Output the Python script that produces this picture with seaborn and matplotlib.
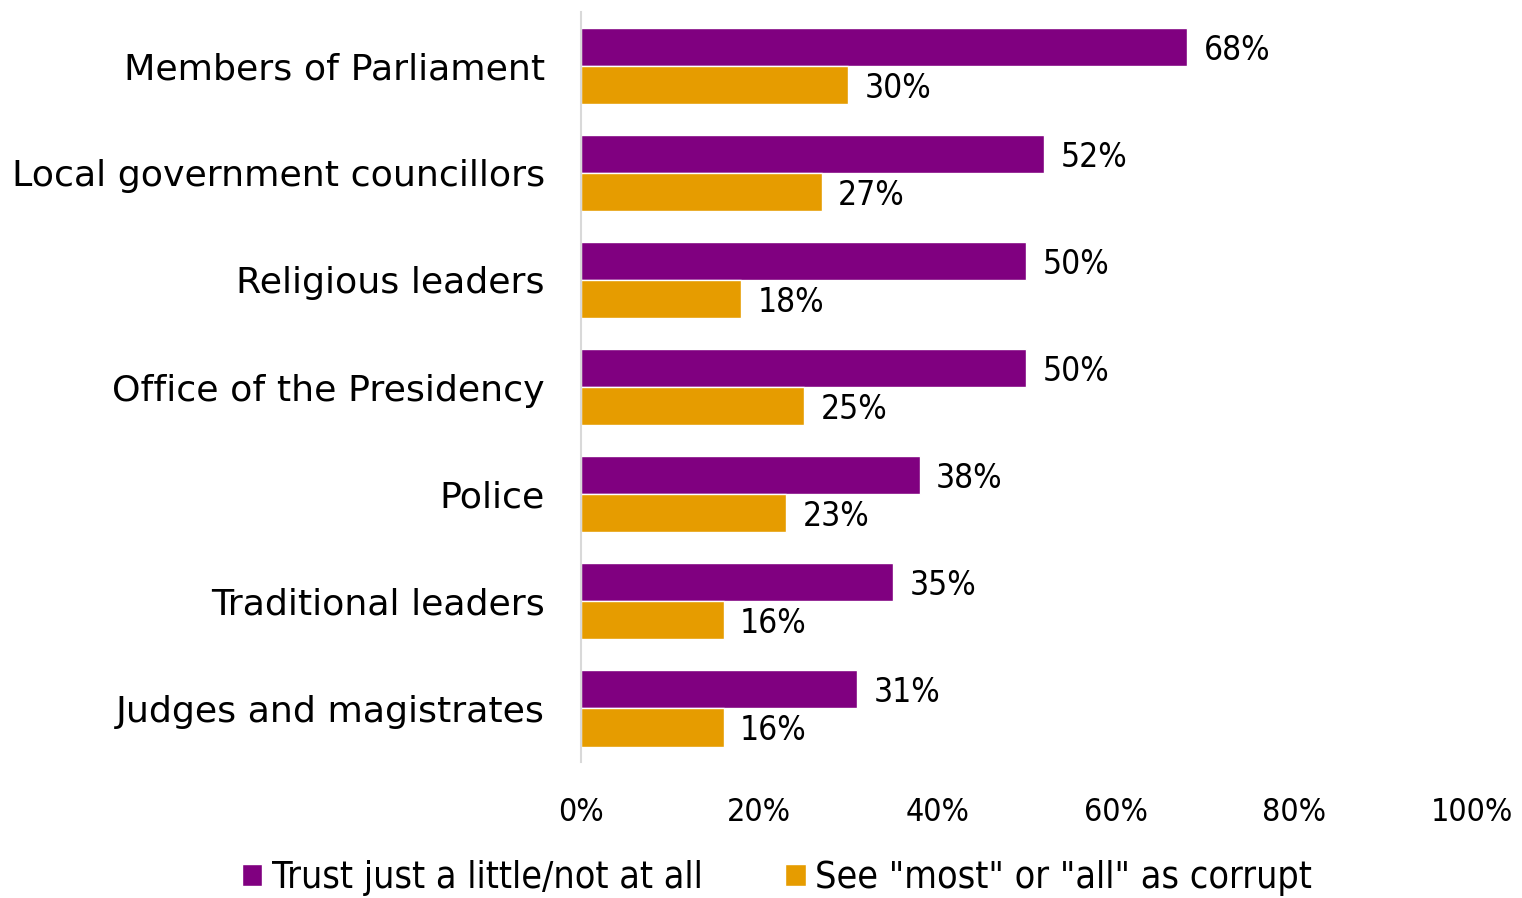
import matplotlib
matplotlib.use("Agg")
import matplotlib.pyplot as plt
import seaborn as sns
import pandas as pd

categories = [
    "Members of Parliament",
    "Local government councillors",
    "Religious leaders",
    "Office of the Presidency",
    "Police",
    "Traditional leaders",
    "Judges and magistrates",
]
series_names = ["Trust just a little/not at all", 'See "most" or "all" as corrupt']
distrust = [68, 52, 50, 50, 38, 35, 31]
corrupt = [30, 27, 18, 25, 23, 16, 16]
x_ticks = [0, 20, 40, 60, 80, 100]
colors = ["#800080", "#E69C00"]

df = pd.DataFrame({
    "category": categories * 2,
    "series": [series_names[0]] * len(categories) + [series_names[1]] * len(categories),
    "value": distrust + corrupt,
})

sns.set_theme(style="white")
plt.rcParams["font.family"] = ["DejaVu Sans"]
plt.rcParams["text.color"] = "black"

fig = plt.figure(figsize=(15.22, 8.98), dpi=100)
ax = fig.add_axes([0.3817, 0.1514, 0.5854, 0.8352])

sns.barplot(data=df, y="category", x="value", hue="series", orient="h",
            order=categories, hue_order=series_names, palette=colors,
            width=0.71, saturation=1, ax=ax, legend=True)

for cont in ax.containers:
    lbls = ax.bar_label(cont, labels=[f"{v:.0f}%" for v in cont.datavalues],
                        padding=12, fontsize=24, color="black")
    for t in lbls:
        t.set_fontstretch("condensed")
        x, y = t.xyann
        t.xyann = (x, y - 2.5)

ax.set_xlim(0, 100)
ax.set_ylim(len(categories) - 0.5, -0.5)
ax.set_xticks(x_ticks)
ax.set_xticklabels([f"{t}%" for t in x_ticks])
ax.set_xlabel("")
ax.set_ylabel("")
ax.tick_params(axis="y", length=0, pad=26, labelsize=26.2, labelcolor="black")
ax.tick_params(axis="x", length=0, pad=25, labelsize=23, labelcolor="black")
for t in ax.get_xticklabels():
    t.set_fontstretch("condensed")

for side in ["top", "right", "bottom"]:
    ax.spines[side].set_visible(False)
ax.spines["left"].set_color("#D9D9D9")
ax.spines["left"].set_linewidth(1.5)

handles, labels = ax.get_legend_handles_labels()
ax.get_legend().remove()
leg = fig.legend(handles, labels, loc="center", bbox_to_anchor=(0.5105, 0.022),
                 ncol=2, frameon=False, fontsize=27, handlelength=0.55,
                 handleheight=0.55, handletextpad=0.25, columnspacing=2.2)
for t in leg.get_texts():
    t.set_color("black")
    t.set_fontstretch("condensed")

fig.savefig("out.png", dpi=100)
